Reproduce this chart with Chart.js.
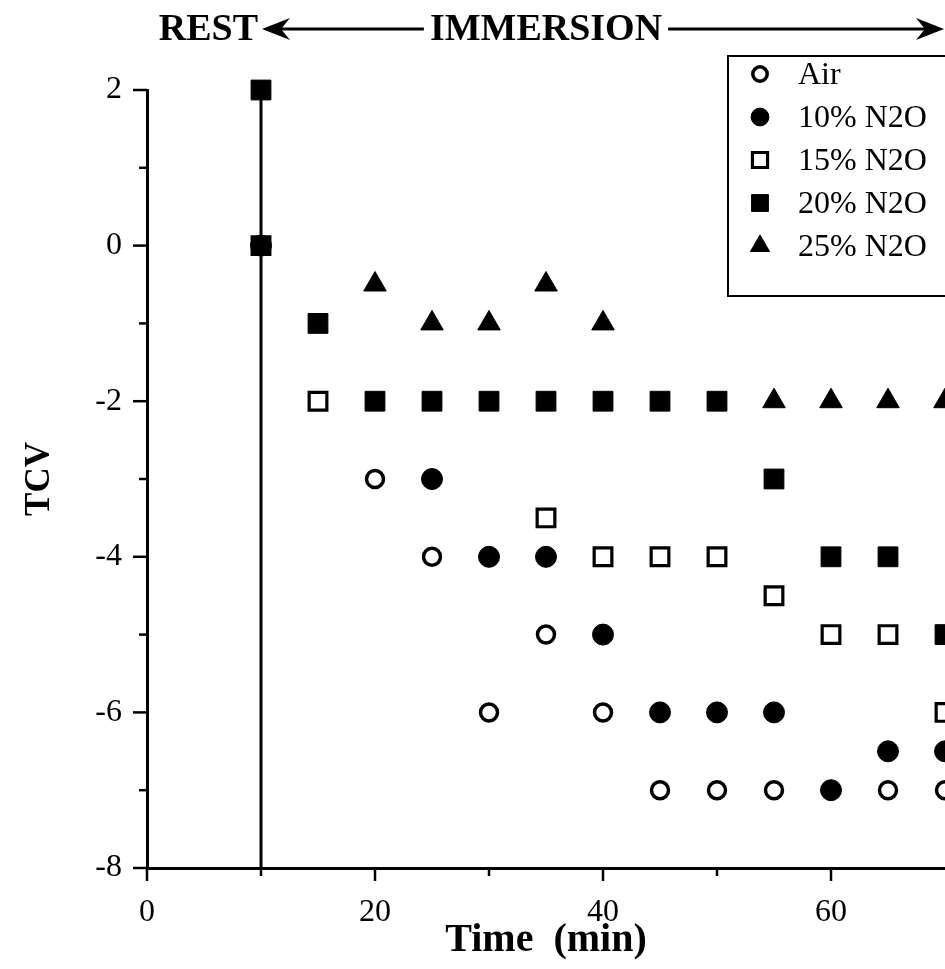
<!DOCTYPE html>
<html>
<head>
<meta charset="utf-8">
<script src="https://cdn.jsdelivr.net/npm/chart.js@4.4.0/dist/chart.umd.min.js"></script>
<style>
  html, body { margin: 0; padding: 0; background: #fff; }
  #wrap { position: relative; width: 945px; height: 969px; }
</style>
</head>
<body>
<div id="wrap"><canvas id="chartTCV" width="945" height="969"></canvas></div>
<script>
// Dados (null = ponto não visível)
const times   = [10, 15, 20, 25, 30, 35, 40, 45, 50, 55, 60, 65, 70];
const air     = [null, null, -3, -4, -6, -5, -6, -7, -7, -7, null, -7, -7];
const n2o10   = [0, null, null, -3, -4, -4, -5, -6, -6, -6, -7, -6.5, -6.5];
const n2o15   = [0, -2, null, null, null, -3.5, -4, -4, -4, -4.5, -5, -5, -6];
const n2o20   = [2, -1, -2, -2, -2, -2, -2, -2, -2, -3, -4, -4, -5];
const n2o25   = [null, null, -0.5, -1, -1, -0.5, -1, null, null, -2, -2, -2, -2];
const labels  = ['Air', '10% N2O', '15% N2O', '20% N2O', '25% N2O'];
const restTime = 10;
const yTickLabels = [2, 0, -2, -4, -6, -8];
const xTickLabels = [0, 20, 40, 60];

const serif = '"Liberation Serif", "Times New Roman", serif';

function toPoints(values) {
  const pts = [];
  values.forEach(function(v, i) {
    if (v !== null) pts.push({ x: times[i], y: v });
  });
  return pts;
}

const markerStyles = [
  { pointStyle: 'circle',   radius: 8.5,  borderWidth: 3.5, bg: '#fff' },
  { pointStyle: 'circle',   radius: 10.5, borderWidth: 1,   bg: '#000' },
  { pointStyle: 'rect',     radius: 12.5, borderWidth: 3.2, bg: '#fff' },
  { pointStyle: 'rect',     radius: 14,   borderWidth: 1,   bg: '#000' },
  { pointStyle: 'triangle', radius: 13,   borderWidth: 1,   bg: '#000' }
];

const seriesValues = [air, n2o10, n2o15, n2o20, n2o25];

const datasets = seriesValues.map(function(vals, i) {
  const m = markerStyles[i];
  return {
    label: labels[i],
    data: toPoints(vals),
    pointStyle: m.pointStyle,
    pointRadius: m.radius,
    pointBorderWidth: m.borderWidth,
    pointBackgroundColor: m.bg,
    pointBorderColor: '#000',
    showLine: false,
    clip: false
  };
});

// linha vertical do fim do repouso
datasets.push({
  label: 'rest',
  data: [{ x: restTime, y: n2o20[0] }, { x: restTime, y: -8 }],
  showLine: true,
  borderColor: '#000',
  borderWidth: 3,
  pointRadius: 0,
  clip: false
});

// Ticks maiores e menores, cabeçalho e legenda
const decorPlugin = {
  id: 'decor',
  afterDraw: function(chart) {
    const ctx = chart.ctx;
    const xs = chart.scales.x;
    const ys = chart.scales.y;
    const area = chart.chartArea;

    ctx.save();
    ctx.strokeStyle = '#000';
    ctx.lineWidth = 2.5;
    // ticks do eixo y
    for (let v = -8; v <= 2; v++) {
      const py = ys.getPixelForValue(v);
      const len = (v % 2 === 0) ? 14 : 8;
      ctx.beginPath();
      ctx.moveTo(area.left - len, py);
      ctx.lineTo(area.left, py);
      ctx.stroke();
    }
    // ticks do eixo x
    for (let v = 0; v <= 60; v += 10) {
      const px = xs.getPixelForValue(v);
      const len = (v % 20 === 0) ? 13 : 8;
      ctx.beginPath();
      ctx.moveTo(px, area.bottom);
      ctx.lineTo(px, area.bottom + len);
      ctx.stroke();
    }

    // cabeçalho REST <-- IMMERSION -->
    const hy = 29;
    const xRest = xs.getPixelForValue(restTime);
    const xEnd = xs.getPixelForValue(70);
    const xMid = xs.getPixelForValue(35);
    ctx.fillStyle = '#000';
    ctx.font = 'bold 38px ' + serif;
    ctx.textBaseline = 'middle';
    ctx.textAlign = 'right';
    ctx.fillText('REST', xRest - 3, hy + 1);
    ctx.textAlign = 'center';
    ctx.fillText('IMMERSION', xMid, hy + 1);
    const half = ctx.measureText('IMMERSION').width / 2;
    ctx.lineWidth = 3;
    ctx.beginPath();
    ctx.moveTo(xRest + 12, hy);
    ctx.lineTo(xMid - half - 6, hy);
    ctx.moveTo(xMid + half + 6, hy);
    ctx.lineTo(xEnd - 12, hy);
    ctx.stroke();
    function arrowHead(tipX, dir) {
      ctx.beginPath();
      ctx.moveTo(tipX, hy);
      ctx.lineTo(tipX + dir * 28, hy - 11);
      ctx.lineTo(tipX + dir * 19, hy);
      ctx.lineTo(tipX + dir * 28, hy + 11);
      ctx.closePath();
      ctx.fill();
    }
    arrowHead(xRest + 1, 1);
    arrowHead(xEnd - 1, -1);

    // legenda
    ctx.lineWidth = 2;
    ctx.strokeRect(728, 56, 300, 240);
    ctx.font = '32px ' + serif;
    ctx.textAlign = 'left';
    labels.forEach(function(lab, i) {
      const ry = 74 + i * 43;
      const m = markerStyles[i];
      ctx.fillStyle = m.bg;
      ctx.strokeStyle = '#000';
      ctx.lineWidth = m.borderWidth;
      Chart.helpers.drawPoint(ctx, {
        pointStyle: m.pointStyle,
        radius: m.radius * 0.85,
        borderWidth: m.borderWidth,
        rotation: 0
      }, 760, ry);
      ctx.fillStyle = '#000';
      ctx.fillText(lab, 798, ry + 2);
    });
    ctx.restore();
  }
};

const ctx1 = document.getElementById('chartTCV').getContext('2d');
new Chart(ctx1, {
  type: 'scatter',
  data: { datasets: datasets },
  plugins: [decorPlugin],
  options: {
    responsive: false,
    animation: false,
    layout: { autoPadding: false, padding: { top: 90, right: 0, left: 0, bottom: 0 } },
    plugins: {
      legend: { display: false },
      tooltip: { enabled: false }
    },
    scales: {
      x: {
        type: 'linear',
        min: 0,
        max: 70,
        border: { display: true, color: '#000', width: 3 },
        grid: { display: true, drawOnChartArea: false, drawTicks: true, tickLength: 25, tickColor: 'rgba(0,0,0,0)' },
        ticks: {
          stepSize: 10,
          autoSkip: false,
          maxRotation: 0,
          color: '#000',
          padding: 0,
          font: { family: serif, size: 32 },
          callback: function(v) { return xTickLabels.includes(v) ? String(v) : ''; }
        },
        title: {
          display: true,
          text: 'Time  (min)',
          color: '#000',
          font: { family: serif, size: 40, weight: 'bold' },
          padding: { top: 0, bottom: 4 }
        },
        afterFit: function(s) { s.height = 101; }
      },
      y: {
        type: 'linear',
        min: -8,
        max: 2,
        border: { display: true, color: '#000', width: 3 },
        grid: { display: true, drawOnChartArea: false, drawTicks: true, tickLength: 14, tickColor: 'rgba(0,0,0,0)' },
        ticks: {
          stepSize: 1,
          autoSkip: false,
          color: '#000',
          padding: 11,
          font: { family: serif, size: 32 },
          callback: function(v) { return yTickLabels.includes(v) ? String(v) : ''; }
        },
        title: {
          display: true,
          text: 'TCV',
          color: '#000',
          font: { family: serif, size: 35, weight: 'bold' },
          padding: { top: 19, bottom: 0 }
        },
        afterFit: function(s) { s.width = 147; }
      }
    }
  }
});
</script>
</body>
</html>
